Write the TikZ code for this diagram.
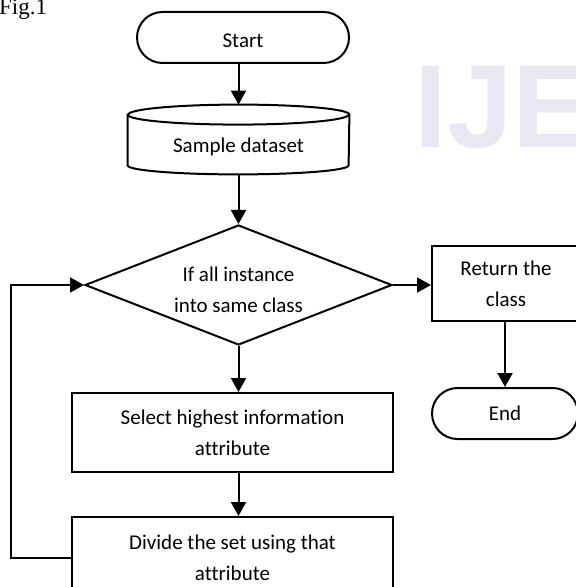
\documentclass[tikz,border=0pt]{standalone}
\usepackage{fontspec}
\setmainfont{Carlito}[Ligatures=NoCommon]
\newfontfamily\figfont{Liberation Serif}
\newfontfamily\wmfont{Liberation Sans}
\usetikzlibrary{shapes.geometric,shapes.misc,arrows.meta}
\definecolor{wmcol}{RGB}{232,232,242}
\begin{document}
\begin{tikzpicture}[x=0.5pt,y=-0.5pt,
  every node/.style={font=\fontsize{10.5}{15.5}\selectfont, inner sep=0pt},
  box/.style={draw,line width=1pt,fill=white,rectangle,align=center},
  term/.style={draw,line width=1pt,fill=white,rounded rectangle,align=center},
  decision/.style={draw,line width=1pt,fill=white,diamond,aspect=2.5,align=center},
  conn/.style={line width=1pt,-{Triangle[length=7pt,width=7.5pt]}},
  line/.style={line width=1pt},
]
\useasboundingbox (0,0) rectangle (576,587);
\fill[white] (0,0) rectangle (576,587);

% watermark and figure caption
\node[font=\wmfont\bfseries\fontsize{59}{60}\selectfont, text=wmcol, anchor=base west] (wm) at (414,148) {IJE};
\node[font=\figfont\fontsize{11.5}{12}\selectfont, anchor=base east] (fig) at (47.5,15) {Fig.1};

% nodes
\node[term, minimum width=106pt, minimum height=25.5pt] (start) at (243,37.5) {\rule{0pt}{10pt}Start};
\node[rectangle, minimum width=110.5pt, minimum height=34.5pt] (data) at (238.5,139.5) {\rule{0pt}{14.3pt}Sample dataset};
\draw[line] ([yshift=-5pt]data.north west) -- ([yshift=4.5pt]data.south west)
  arc[start angle=180,end angle=360,x radius=55.25pt,y radius=4.5pt]
  -- ([yshift=-5pt]data.north east)
  arc[start angle=0,end angle=180,x radius=55.25pt,y radius=5pt] -- cycle;
\draw[line] ([yshift=-5pt]data.north west) arc[start angle=180,end angle=360,x radius=55.25pt,y radius=5pt];

\node[decision, minimum width=153.5pt, minimum height=60pt] (dec) at (238.5,285) {\rule{0pt}{12pt}If all instance\\into same class};
\node[box, minimum width=74pt, minimum height=37.5pt] (ret) at (506,283.5) {Return the\\class};
\node[term, minimum width=73pt, minimum height=25.5pt] (end) at (505,413.5) {End};
\node[box, minimum width=160.5pt, minimum height=39.5pt] (sel) at (232.5,432.5) {Select highest information\\attribute};
\node[box, minimum width=160.5pt, minimum height=40.5pt] (div) at (232.5,557.5) {Divide the set using that\\attribute};

% connectors
\draw[conn] (data.north |- start.south) -- (data.north);
\draw[conn] (data.south) -- (dec.north);
\draw[conn] (dec.east) -- (dec.east -| ret.west);
\draw[conn] (end.north |- ret.south) -- (end.north);
\draw[conn] (dec.south) -- (dec.south |- sel.north);
\draw[conn] (dec.south |- sel.south) -- (dec.south |- div.north);
\draw[conn] (div.west) -- ++(-30pt,0) |- (dec.west);
\end{tikzpicture}
\end{document}
